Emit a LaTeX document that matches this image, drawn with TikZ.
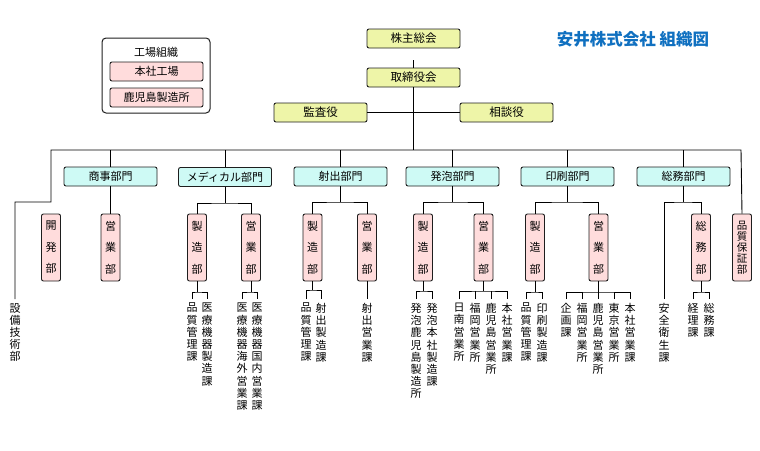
\documentclass[tikz,border=0pt]{standalone}
\usepackage{fontspec}
\setmainfont{Noto Sans CJK JP}
\definecolor{yel}{RGB}{238,245,168}
\definecolor{pnk}{RGB}{255,220,220}
\definecolor{cyn}{RGB}{206,250,245}
\definecolor{ttl}{RGB}{16,112,192}
\definecolor{edge}{RGB}{30,30,30}
\begin{document}
\begin{tikzpicture}[x=1pt,y=-1pt,
 box/.style={draw=edge, rounded corners=2pt, line width=0.9pt, minimum width=93pt, minimum height=19pt, inner sep=0pt, font=\fontsize{11.5}{12}\selectfont},
 ybox/.style={box, fill=yel},
 cbox/.style={box, fill=cyn, font=\fontsize{11}{12}\selectfont},
 pbox/.style={box, fill=pnk, font=\fontsize{11}{12}\selectfont},
 vbox/.style={draw=edge, rounded corners=2pt, line width=0.9pt, fill=pnk, minimum width=19pt, minimum height=67pt, inner sep=0pt, align=center, font=\fontsize{11}{21.5}\selectfont},
 vt/.style={anchor=north, align=center, inner sep=0pt, font=\fontsize{11}{12.2}\selectfont},
 ln/.style={draw=black, line width=0.9pt},
]
\useasboundingbox (0,0) rectangle (760,450);

% title
\node[font=\fontsize{16.5}{18}\selectfont\bfseries, text=ttl] (title) at (633,39) {安井株式会社 組織図};

% legend
\node[draw=edge, rounded corners=4pt, line width=1pt, minimum width=108pt, minimum height=75pt, inner sep=0pt] (leg) at (156,75.5) {};
\node[font=\fontsize{11}{12}\selectfont] (legT) at (156,52) {工場組織};
\node[pbox] (legA) at (156.5,71.5) {本社工場};
\node[pbox] (legB) at (156.5,97.5) {鹿児島製造所};

% top
\node[ybox] (kabu) at (413.5,38.5) {株主総会};
\node[ybox] (tori) at (413.5,77.5) {取締役会};
\node[ybox] (kansa) at (320.5,112.5) {監査役};
\node[ybox] (soudan) at (506.5,112.5) {相談役};

% departments
\node[cbox] (shoji) at (110.5,176.5) {商事部門};
\node[cbox] (med) at (225,177) {メディカル部門};
\node[cbox] (sha) at (340.5,176.5) {射出部門};
\node[cbox] (hap) at (452.5,176.5) {発泡部門};
\node[cbox] (ins) at (567.5,176.5) {印刷部門};
\node[cbox] (som) at (683.5,176.5) {総務部門};

% sub boxes
\node[vbox] (kai) at (51,247.5) {開\\発\\部};
\node[vbox] (shE) at (110.5,247.5) {営\\業\\部};
\node[vbox] (mS) at (197,247.5) {製\\造\\部};
\node[vbox] (mE) at (251,247.5) {営\\業\\部};
\node[vbox] (sS) at (312.5,247.5) {製\\造\\部};
\node[vbox] (sE) at (367,247.5) {営\\業\\部};
\node[vbox] (hS) at (423,247.5) {製\\造\\部};
\node[vbox] (hE) at (483.5,247.5) {営\\業\\部};
\node[vbox] (iS) at (535,247.5) {製\\造\\部};
\node[vbox] (iE) at (598.5,247.5) {営\\業\\部};
\node[vbox] (gB) at (701,247.5) {総\\務\\部};
\node[vbox, font=\fontsize{10.5}{11}\selectfont] (hosho) at (742,247.5) {品\\質\\保\\証\\部};

% vertical texts
\node[vt] (tSek) at (15,303) {設\\備\\技\\術\\部};
\node[vt] (tM1) at (192,303) {品\\質\\管\\理\\課};
\node[vt] (tM2) at (207,303) {医\\療\\機\\器\\製\\造\\課};
\node[vt] (tM3) at (242,303) {医\\療\\機\\器\\海\\外\\営\\業\\課};
\node[vt] (tM4) at (257,303) {医\\療\\機\\器\\国\\内\\営\\業\\課};
\node[vt] (tS1) at (306,303) {品\\質\\管\\理\\課};
\node[vt] (tS2) at (321,303) {射\\出\\製\\造\\課};
\node[vt] (tS3) at (367,303) {射\\出\\営\\業\\課};
\node[vt] (tH1) at (416,303) {発\\泡\\鹿\\児\\島\\製\\造\\所};
\node[vt] (tH2) at (432,303) {発\\泡\\本\\社\\製\\造\\課};
\node[vt] (tH3) at (459,303) {日\\南\\営\\業\\所};
\node[vt] (tH4) at (475,303) {福\\岡\\営\\業\\所};
\node[vt] (tH5) at (491,303) {鹿\\児\\島\\営\\業\\所};
\node[vt] (tH6) at (507,303) {本\\社\\営\\業\\課};
\node[vt] (tI1) at (526,303) {品\\質\\管\\理\\課};
\node[vt] (tI2) at (542,303) {印\\刷\\製\\造\\課};
\node[vt] (tI3) at (566,303) {企\\画\\課};
\node[vt] (tI4) at (582,303) {福\\岡\\営\\業\\所};
\node[vt] (tI5) at (598,303) {鹿\\児\\島\\営\\業\\所};
\node[vt] (tI6) at (614,303) {東\\京\\営\\業\\所};
\node[vt] (tI7) at (630,303) {本\\社\\営\\業\\課};
\node[vt] (tG1) at (664,303) {安\\全\\衛\\生\\課};
\node[vt] (tG2) at (693,303) {経\\理\\課};
\node[vt] (tG3) at (709,303) {総\\務\\課};

% coordinates
\coordinate (busL) at (51,150);
\coordinate (busR) at (741,150);
\coordinate (cL) at (51,202);

% top connectors
\draw[ln] ([yshift=-12pt]kabu.south) -- (tori.north);
\draw[ln] (tori.south) -- (tori.south |- busL);
\draw[ln] (kansa.east) -- (soudan.west);

% bus
\draw[ln] ([yshift=4pt]tSek.north) |- (cL) -- (busL) -- (busR) -- (hosho.north);
\foreach \d in {shoji,med,sha,hap,ins,som} \draw[ln] (\d.north) -- (\d.north |- busL);

% department brackets
\draw[ln] (shoji.south) -- (shE.north);
\coordinate (mJ) at (225,203);
\draw[ln] (med.south) -- (mJ);
\draw[ln] (mS.north) |- (mJ) -| (mE.north);
\coordinate (sJ) at (340.5,202);
\draw[ln] (sha.south) -- (sJ);
\draw[ln] (sS.north) |- (sJ) -| (sE.north);
\coordinate (hJ) at (452.5,202);
\draw[ln] (hap.south) -- (hJ);
\draw[ln] (hS.north) |- (hJ) -| (hE.north);
\coordinate (iJ) at (567.5,202);
\draw[ln] (ins.south) -- (iJ);
\draw[ln] (iS.north) |- (iJ) -| (iE.north);
\coordinate (gJ) at (683.5,202);
\draw[ln] (som.south) -- (gJ);
\draw[ln] ([yshift=4pt]tG1.north) |- (gJ) -| (gB.north);

% section brackets
\coordinate (mSj) at (197,292);
\draw[ln] (mS.south) -- (mSj);
\draw[ln] ([yshift=4pt]tM1.north) |- (mSj) -| ([yshift=4pt]tM2.north);
\coordinate (mEj) at (251,292);
\draw[ln] (mE.south) -- (mEj);
\draw[ln] ([yshift=4pt]tM3.north) |- (mEj) -| ([yshift=4pt]tM4.north);
\coordinate (sSj) at (312.5,290);
\draw[ln] (sS.south) -- (sSj);
\draw[ln] ([yshift=4pt]tS1.north) |- (sSj) -| ([yshift=4pt]tS2.north);
\draw[ln] (sE.south) -- ([yshift=4pt]tS3.north);
\coordinate (hSj) at (423,291);
\draw[ln] (hS.south) -- (hSj);
\draw[ln] ([yshift=4pt]tH1.north) |- (hSj) -| ([yshift=4pt]tH2.north);
\coordinate (hEj) at (483.5,291);
\draw[ln] (hE.south) -- (hEj);
\draw[ln] ([yshift=4pt]tH3.north) |- (hEj) -| ([yshift=4pt]tH6.north);
\draw[ln] ([yshift=4pt]tH4.north) -- (tH4.north |- hEj);
\draw[ln] ([yshift=4pt]tH5.north) -- (tH5.north |- hEj);
\coordinate (iSj) at (535,292);
\draw[ln] (iS.south) -- (iSj);
\draw[ln] ([yshift=4pt]tI1.north) |- (iSj) -| ([yshift=4pt]tI2.north);
\coordinate (iEj) at (598.5,292);
\draw[ln] (iE.south) -- (iEj);
\draw[ln] ([yshift=4pt]tI3.north) |- (iEj) -| ([yshift=4pt]tI7.north);
\foreach \t in {tI4,tI5,tI6} \draw[ln] ([yshift=4pt]\t.north) -- (\t.north |- iEj);
\coordinate (gBj) at (701,292);
\draw[ln] (gB.south) -- (gBj);
\draw[ln] ([yshift=4pt]tG2.north) |- (gBj) -| ([yshift=4pt]tG3.north);
\end{tikzpicture}
\end{document}
